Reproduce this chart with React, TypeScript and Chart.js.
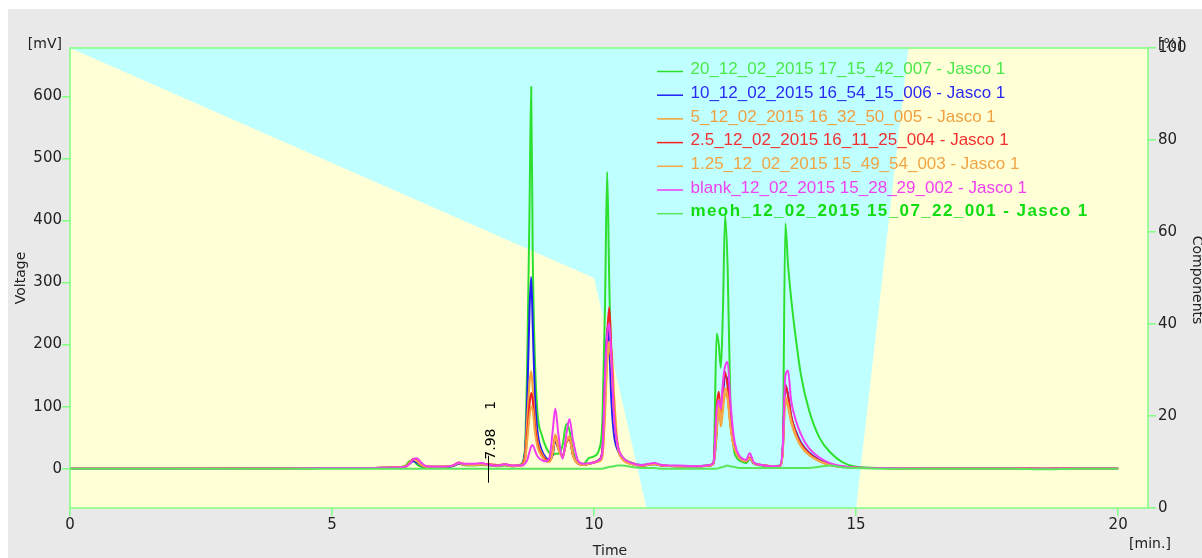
import React, { useEffect, useRef } from "react";
import { Chart, registerables } from "chart.js";

Chart.register(...registerables);

// ---------------- data ----------------
// retention time [min.] shared by all traces
const TIME_MIN = [
  0, 2, 4, 4.8, 5.5, 6.2, 6.4, 6.48, 6.55, 6.62,
  6.7, 6.8, 7.0, 7.3, 7.42, 7.5, 7.7, 7.85, 8.0, 8.15,
  8.3, 8.45, 8.6, 8.68, 8.73, 8.77, 8.8, 8.83, 8.87, 8.92,
  9.0, 9.08, 9.15, 9.21, 9.26, 9.32, 9.4, 9.47, 9.53, 9.6,
  9.7, 9.8, 9.9, 10.0, 10.1, 10.16, 10.21, 10.25, 10.29, 10.33,
  10.38, 10.45, 10.55, 10.7, 10.9, 11.15, 11.3, 11.6, 12.0, 12.2,
  12.28, 12.34, 12.38, 12.42, 12.46, 12.5, 12.55, 12.6, 12.66, 12.72,
  12.8, 12.9, 12.97, 13.05, 13.2, 13.4, 13.55, 13.6, 13.65, 13.7,
  13.76, 13.85, 13.95, 14.1, 14.3, 14.5, 14.75, 15.0, 15.5, 16.5,
  18.0, 18.6, 19.2, 20.0,
];

// voltage [mV]
const V_20 = [
  0, 0, 0.5, 1, 1, 2, 5, 12, 13, 7,
  3, 2, 2, 4, 8, 6, 5, 6, 5, 4,
  5, 4, 7, 30, 200, 430, 615, 340, 180, 90,
  55, 35, 25, 22, 24, 24, 38, 72, 62, 28,
  8, 8, 17, 20, 32, 80, 270, 478, 300, 150,
  70, 35, 18, 10, 6, 8, 5, 4, 4, 6,
  10, 218, 200, 162, 260, 408, 320, 110, 35, 18,
  12, 9, 16, 8, 5, 4, 5, 30, 395, 330,
  275, 210, 150, 95, 50, 27, 10, 3, 1, 0.5,
  0.5, 0, 0.5, 0.5,
];
const V_10 = [
  0, 0, 0.5, 1, 1, 2, 3, 8, 12, 10,
  5, 3, 3, 4, 8, 7, 6, 7, 6, 5,
  6, 4, 6, 25, 130, 260, 309, 230, 120, 60,
  30, 18, 14, 22, 45, 32, 20, 42, 48, 22,
  8, 6, 8, 10, 15, 30, 150, 228, 200, 110,
  55, 30, 15, 8, 5, 7, 5, 4, 4, 5,
  8, 60, 112, 88, 120, 150, 140, 80, 40, 25,
  15, 12, 16, 9, 6, 4, 5, 30, 135, 120,
  85, 60, 42, 26, 14, 7, 3, 1.5, 1, 0.5,
  0.5, 0, 0.5, 0.5,
];
const V_5 = [
  0, 0, 0.5, 1, 1, 2, 4, 10, 15, 12,
  6, 3, 3, 5, 9, 7, 6, 7, 6, 5,
  6, 4, 6, 20, 90, 140, 157, 130, 80, 45,
  25, 15, 12, 30, 55, 35, 20, 45, 52, 22,
  8, 6, 8, 10, 12, 20, 90, 170, 190, 195,
  120, 40, 14, 8, 5, 7, 5, 4, 4, 5,
  8, 55, 100, 68, 95, 121, 110, 70, 38, 24,
  15, 12, 17, 9, 6, 4, 5, 25, 110, 100,
  75, 52, 36, 22, 12, 6, 3, 1.5, 1, 0.5,
  0.5, 0, 0.5, 0.5,
];
const V_2_5 = [
  0, 0, 0.5, 1, 1, 2, 3, 9, 16, 13,
  6, 3, 3, 5, 10, 8, 7, 8, 7, 6,
  7, 5, 5, 15, 60, 105, 122, 110, 70, 40,
  22, 14, 12, 25, 50, 32, 20, 42, 48, 20,
  8, 6, 8, 10, 14, 30, 140, 215, 260, 190,
  90, 38, 16, 9, 5, 8, 5, 4, 4, 5,
  10, 100, 124, 88, 130, 156, 130, 75, 40, 25,
  16, 13, 18, 9, 6, 4, 5, 30, 135, 118,
  85, 58, 40, 25, 13, 6, 3, 1.5, 1, 0.5,
  0.5, 0, 0.5, 0.5,
];
const V_1_25 = [
  0, 0, 0.5, 1, 1, 2, 3, 9, 15, 12,
  6, 3, 3, 5, 9, 7, 6, 7, 6, 5,
  6, 4, 5, 12, 50, 85, 100, 95, 60, 35,
  20, 12, 11, 25, 50, 32, 18, 42, 50, 20,
  8, 6, 8, 10, 13, 22, 100, 180, 205, 170,
  90, 34, 15, 8, 5, 7, 5, 4, 4, 5,
  8, 70, 112, 75, 105, 130, 115, 70, 38, 24,
  15, 12, 17, 9, 6, 4, 5, 25, 115, 104,
  78, 54, 37, 23, 12, 6, 3, 1.5, 1, 0.5,
  0.5, 0, 0.5, 0.5,
];
const V_BLANK = [
  0, 0, 0.5, 1, 1, 2, 3, 8, 15, 17,
  10, 4, 3, 5, 10, 8, 8, 9, 6, 5,
  7, 5, 5, 8, 15, 28, 36, 38, 30, 20,
  14, 12, 18, 60, 97, 55, 16, 55, 80, 45,
  12, 8, 9, 10, 14, 28, 150, 215, 234, 180,
  85, 38, 18, 10, 6, 9, 6, 5, 4, 6,
  10, 95, 110, 97, 140, 165, 172, 110, 55, 30,
  18, 14, 25, 10, 6, 4, 5, 35, 150, 158,
  110, 78, 55, 33, 18, 9, 4, 2, 1, 0.5,
  0.5, 0, 0.5, 0.5,
];
const V_MEOH = [
  0, 0, 0, 0, 0, 0, 0, 0, 0, 0,
  0, 0, 0, 0, 0, 0, 0, 0, 0, 0,
  0, 0, 0, 0, 0, 0, 0, 0, 0, 0,
  0, 0, 0, 0, 0, 0, 0, 0, 0, 0,
  0, 0, 0, 0, 0, 0, 1, 2, 3, 3,
  4, 5, 5, 3, 1, 1, 0, 0, 0, 0,
  0, 0, 1, 2, 3, 4, 5, 4, 3, 2,
  1, 1, 1, 1, 1, 1, 1, 1, 1, 1,
  1, 1, 1, 1, 3, 5, 2, 1, 0, 0,
  0, -1, 0, 0,
];

const SERIES_LABELS = [
  "20_12_02_2015 17_15_42_007 - Jasco 1",
  "10_12_02_2015 16_54_15_006 - Jasco 1",
  "5_12_02_2015 16_32_50_005 - Jasco 1",
  "2.5_12_02_2015 16_11_25_004 - Jasco 1",
  "1.25_12_02_2015 15_49_54_003 - Jasco 1",
  "blank_12_02_2015 15_28_29_002 - Jasco 1",
  "meoh_12_02_2015 15_07_22_001 - Jasco 1",
];
const SERIES_VALUES = [V_20, V_10, V_5, V_2_5, V_1_25, V_BLANK, V_MEOH];

// gradient program (Components, %)
const GRADIENT_TIME = [0, 10, 11, 15, 16, 20.57];
const GRADIENT_PCT = [100, 50, 0, 0, 100, 100];

const X_TICKS = [0, 5, 10, 15, 20];
const Y_TICKS = [0, 100, 200, 300, 400, 500, 600];
const Y1_TICKS = [0, 20, 40, 60, 80, 100];

const PEAK_TIME = 7.98;
const PEAK_TEXT = "7.98";
const PEAK_NUMBER = "1";

// ---------------- styles ----------------
const LINE_COLORS = ["#2ee02e", "#1f1ff5", "#f5a030", "#f52020", "#f4a848", "#f23cf2", "#5ae65a"];
const TEXT_COLORS = ["#4ce84c", "#2a2af0", "#f0a040", "#f03030", "#f0a545", "#f040f0", "#10dc10"];
const LEGEND_BOLD = [false, false, false, false, false, false, true];
const AXIS_GREEN = "#80ff80";
const TEXT_DARK = "#222222";

const bgPlugin = {
  id: "bgPanel",
  beforeDraw(chart: any) {
    const { ctx, chartArea: a } = chart;
    ctx.save();
    ctx.fillStyle = "#e9e9e9";
    ctx.fillRect(8, 9, chart.width - 8, chart.height - 9);
    ctx.fillStyle = "#c0ffff";
    ctx.fillRect(a.left, a.top, a.right - a.left, a.bottom - a.top);
    ctx.restore();
  },
};

const overlayPlugin = {
  id: "overlay",
  afterDatasetsDraw(chart: any) {
    const { ctx, chartArea: a } = chart;
    ctx.save();
    // plot frame
    ctx.strokeStyle = AXIS_GREEN;
    ctx.lineWidth = 1.5;
    ctx.strokeRect(a.left, a.top, a.right - a.left, a.bottom - a.top);

    // legend
    const lx0 = 657, lx1 = 683, tx = 690.5;
    SERIES_LABELS.forEach((lab, i) => {
      const y = 69.5 + i * 23.7;
      ctx.strokeStyle = LINE_COLORS[i];
      ctx.lineWidth = 1.5;
      ctx.beginPath();
      ctx.moveTo(lx0, y + 2);
      ctx.lineTo(lx1, y + 2);
      ctx.stroke();
      ctx.font = (LEGEND_BOLD[i] ? "bold " : "") + '17px "Liberation Sans"';
      (ctx as any).letterSpacing = LEGEND_BOLD[i] ? "1.4px" : "0px";
      ctx.fillStyle = TEXT_COLORS[i];
      ctx.textAlign = "left";
      ctx.textBaseline = "middle";
      ctx.fillText(lab, tx, y);
    });
    (ctx as any).letterSpacing = "0px";

    // peak annotation
    const px = Math.round(chart.scales.x.getPixelForValue(PEAK_TIME)) + 0.5;
    const py = chart.scales.y.getPixelForValue(0);
    ctx.strokeStyle = "#000";
    ctx.lineWidth = 1;
    ctx.beginPath();
    ctx.moveTo(px, py - 13);
    ctx.lineTo(px, py + 14);
    ctx.stroke();
    ctx.translate(px + 6, py - 9);
    ctx.rotate(-Math.PI / 2);
    ctx.font = '14px "DejaVu Sans"';
    ctx.fillStyle = "#000";
    ctx.textAlign = "left";
    ctx.textBaseline = "alphabetic";
    ctx.fillText(PEAK_TEXT, 0, 0);
    ctx.fillText(PEAK_NUMBER, 50, 0);
    ctx.restore();
  },
  afterDraw(chart: any) {
    const { ctx } = chart;
    ctx.save();
    ctx.font = '14px "DejaVu Sans"';
    ctx.fillStyle = TEXT_DARK;
    ctx.textBaseline = "middle";
    ctx.textAlign = "right";
    ctx.fillText("[mV]", 62, 44);
    ctx.textAlign = "left";
    ctx.fillText("[%]", 1158, 44);
    ctx.textAlign = "center";
    ctx.fillText("Time", 610, 551);
    ctx.fillText("[min.]", 1150, 544);
    ctx.save();
    ctx.translate(21, 278);
    ctx.rotate(-Math.PI / 2);
    ctx.fillText("Voltage", 0, 0);
    ctx.restore();
    ctx.save();
    ctx.translate(1197, 280);
    ctx.rotate(Math.PI / 2);
    ctx.fillText("Components", 0, 0);
    ctx.restore();
    ctx.restore();
  },
};

export default function App() {
  const ref = useRef<HTMLCanvasElement | null>(null);

  useEffect(() => {
    if (!ref.current) return;
    const tickFont = { family: "DejaVu Sans", size: 15 };
    const traceSets = SERIES_LABELS.map((label, i) => ({
      label,
      data: TIME_MIN.map((t, k) => ({ x: t, y: SERIES_VALUES[i][k] })),
      borderColor: LINE_COLORS[i],
      borderWidth: 2,
      pointRadius: 0,
      fill: false,
      cubicInterpolationMode: "monotone" as const,
      yAxisID: "y",
      order: SERIES_LABELS.length - i,
    }));
    const gradientSet = {
      label: "Components",
      data: GRADIENT_TIME.map((t, k) => ({ x: t, y: GRADIENT_PCT[k] })),
      borderColor: "rgba(0,0,0,0)",
      borderWidth: 0,
      backgroundColor: "#ffffd7",
      pointRadius: 0,
      fill: "start",
      tension: 0,
      yAxisID: "y1",
      order: 100,
    };
    const chart = new Chart(ref.current, {
      type: "line",
      data: { datasets: [gradientSet, ...traceSets] as any },
      options: {
        animation: false,
        responsive: false,
        maintainAspectRatio: false,
        devicePixelRatio: 1,
        layout: { padding: { top: 48, left: 0, right: 0, bottom: 0 } },
        plugins: { legend: { display: false }, tooltip: { enabled: false } },
        scales: {
          x: {
            type: "linear",
            position: "bottom",
            min: 0,
            max: 20.57,
            afterFit: (s: any) => { s.height = 50; },
            afterBuildTicks: (s: any) => { s.ticks = X_TICKS.map((v) => ({ value: v })); },
            grid: { drawOnChartArea: false, drawTicks: true, tickLength: 8, color: AXIS_GREEN, lineWidth: 1.5 },
            border: { display: false },
            ticks: { font: tickFont, color: TEXT_DARK, padding: 0, maxRotation: 0, autoSkip: false },
          },
          y: {
            type: "linear",
            position: "left",
            min: -63.3,
            max: 677.8,
            afterFit: (s: any) => { s.width = 70; },
            afterBuildTicks: (s: any) => { s.ticks = Y_TICKS.map((v) => ({ value: v })); },
            grid: { drawOnChartArea: false, drawTicks: true, tickLength: 8, color: AXIS_GREEN, lineWidth: 1.5 },
            border: { display: false },
            ticks: { font: tickFont, color: TEXT_DARK, padding: 0 },
          },
          y1: {
            type: "linear",
            position: "right",
            min: 0,
            max: 100,
            afterFit: (s: any) => { s.width = 54; },
            afterBuildTicks: (s: any) => { s.ticks = Y1_TICKS.map((v) => ({ value: v })); },
            grid: { drawOnChartArea: false, drawTicks: true, tickLength: 8, color: AXIS_GREEN, lineWidth: 1.5 },
            border: { display: false },
            ticks: { font: tickFont, color: TEXT_DARK, padding: 2 },
          },
        },
      } as any,
      plugins: [bgPlugin, overlayPlugin],
    });
    return () => chart.destroy();
  }, []);

  return (
    <canvas
      ref={ref}
      width={1202}
      height={558}
      style={{ position: "fixed", left: 0, top: 0, width: 1202, height: 558, display: "block" }}
    />
  );
}
